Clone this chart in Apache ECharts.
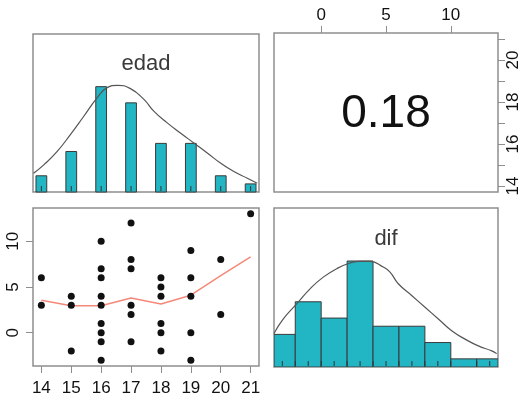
<!DOCTYPE html>
<html>
<head>
<meta charset="utf-8">
<script src="https://cdn.jsdelivr.net/npm/echarts@6/dist/echarts.min.js"></script>
<style>
  html, body { margin: 0; padding: 0; background: #fff; }
  #chart { width: 526px; height: 401px; }
</style>
</head>
<body>
<div id="chart"></div>
<script>
// edad histogram (counts per age)
const edadAges = [14, 15, 16, 17, 18, 19, 20, 21];
const edadCounts = [2, 5, 13, 11, 6, 6, 2, 1];
// edad density curve (count units)
const edadDensX = [13.74, 14.08, 14.53, 14.97, 15.42, 15.87, 16.2, 16.54, 16.98, 17.43, 17.76, 18.21, 18.65, 19.1, 19.55, 19.99, 20.44, 20.89, 21.22];
const edadDensY = [2.32, 3.35, 5.01, 7.08, 9.35, 11.64, 12.88, 13.17, 12.76, 11.43, 9.98, 8.53, 7.29, 6.05, 4.81, 3.57, 2.52, 1.70, 1.08];

// dif histogram (bins of width 2)
const difBreaks = [-4, -2, 0, 2, 4, 6, 8, 10, 12, 14];
const difCounts = [4, 8, 6, 13, 5, 5, 3, 1, 1];
const difDensX = [-3.64, -2.92, -1.89, -0.86, 0.16, 1.2, 2.22, 2.99, 3.77, 4.79, 5.31, 5.95, 6.98, 8.01, 9.04, 10.07, 11.1, 12.12, 13.16, 13.54];
const difDensY = [4.11, 5.89, 7.74, 9.59, 11.02, 12.06, 12.75, 12.96, 12.96, 12.26, 11.64, 10.21, 8.77, 7.32, 5.89, 4.44, 3.42, 2.59, 1.98, 1.64];
const difRug = [-3, -2, -1, 0, 1, 2, 3, 4, 5, 6, 7, 8, 9, 10, 12, 13];

// scatter edad vs dif
const scatterAge = [14, 14, 15, 15, 15, 16, 16, 16, 16, 16, 16, 16, 16, 16, 17, 17, 17, 17, 17, 17, 18, 18, 18, 18, 18, 18, 19, 19, 19, 19, 19, 20, 20, 21];
const scatterDif = [6, 3, 4, 3, -2, 10, 7, 6, 4, 3, 1, 0, -1, -3, 12, 8, 7, 3, 2, -1, 6, 5, 4, 1, 0, -2, 9, 6, 4, 0, -3, 8, 2, 13];
// lowess fit
const loessX = [14, 15, 16, 17, 18, 19, 20, 21];
const loessY = [3.55, 2.95, 2.95, 3.8, 3.15, 4.1, 6.25, 8.3];

// axis ticks / labels
const ageTicks = [14, 15, 16, 17, 18, 19, 20, 21];
const ageLabelsRight = [14, 16, 18, 20];
const difTicks = [0, 5, 10];
const corrLabel = '0.18';

const AGE_MIN = 13.72, AGE_MAX = 21.28;
const DIF_MIN = -3.64, DIF_MAX = 13.64;
const HIST_MAX = 19.5;
const EDAD_BAR_HALF = 0.18;

const FONT = '"Liberation Sans", Arial, sans-serif';
const BORDER = '#8e8e8e';
const BAR = '#22b5c4';

const chart = echarts.init(document.getElementById('chart'));

const gridBase = { show: true, borderColor: BORDER, borderWidth: 1.5, backgroundColor: '#fff' };

const hiddenAxis = (gridIndex, min, max) => ({
  type: 'value', gridIndex, min, max, show: false, splitLine: { show: false }
});

const tickStyle = { show: true, length: 7, inside: false, lineStyle: { color: BORDER, width: 1 } };
const labelStyle = { color: '#111', fontSize: 17, fontFamily: FONT };
const noLine = { show: false, onZero: false };

const rugSeries = (xAxisIndex, yAxisIndex, values) => ({
  type: 'custom',
  xAxisIndex, yAxisIndex,
  data: values.map(v => [v]),
  z: 5,
  renderItem: (params, api) => {
    const p = api.coord([api.value(0), 0]);
    return {
      type: 'line',
      shape: { x1: p[0], y1: p[1] - 1, x2: p[0], y2: p[1] - 6 },
      style: { stroke: '#333', lineWidth: 1 }
    };
  }
});

const option = {
  animation: false,
  backgroundColor: '#fff',
  grid: [
    Object.assign({ left: 33, top: 34, width: 226, height: 158 }, gridBase),
    Object.assign({ left: 274, top: 33, width: 224, height: 159 }, gridBase),
    Object.assign({ left: 33, top: 208, width: 226, height: 158 }, gridBase),
    Object.assign({ left: 274, top: 208, width: 224, height: 159 }, gridBase)
  ],
  xAxis: [
    hiddenAxis(0, AGE_MIN, AGE_MAX),
    {
      type: 'value', gridIndex: 1, min: DIF_MIN, max: DIF_MAX, position: 'top',
      axisLine: noLine, splitLine: { show: false },
      axisTick: Object.assign({ customValues: difTicks }, tickStyle),
      axisLabel: Object.assign({ customValues: difTicks, margin: 9 }, labelStyle)
    },
    {
      type: 'value', gridIndex: 2, min: AGE_MIN, max: AGE_MAX, position: 'bottom',
      axisLine: noLine, splitLine: { show: false },
      axisTick: Object.assign({ customValues: ageTicks }, tickStyle),
      axisLabel: Object.assign({ customValues: ageTicks, margin: 14 }, labelStyle)
    },
    hiddenAxis(3, DIF_MIN, DIF_MAX)
  ],
  yAxis: [
    hiddenAxis(0, 0, HIST_MAX),
    {
      type: 'value', gridIndex: 1, min: AGE_MIN, max: AGE_MAX, position: 'right',
      axisLine: noLine, splitLine: { show: false },
      axisTick: Object.assign({ customValues: ageTicks }, tickStyle),
      axisLabel: Object.assign({ customValues: ageLabelsRight, rotate: 90, margin: 7 }, labelStyle)
    },
    {
      type: 'value', gridIndex: 2, min: DIF_MIN, max: DIF_MAX, position: 'left',
      axisLine: noLine, splitLine: { show: false },
      axisTick: Object.assign({ customValues: difTicks }, tickStyle),
      axisLabel: Object.assign({ customValues: difTicks, rotate: 90, margin: 11 }, labelStyle)
    },
    hiddenAxis(3, 0, HIST_MAX)
  ],
  series: [
    // edad histogram
    {
      type: 'custom',
      xAxisIndex: 0, yAxisIndex: 0,
      data: edadAges.map((a, i) => [a, edadCounts[i]]),
      z: 3,
      renderItem: (params, api) => {
        const x = api.value(0), c = api.value(1);
        const p0 = api.coord([x - EDAD_BAR_HALF, c]);
        const p1 = api.coord([x + EDAD_BAR_HALF, 0]);
        return {
          type: 'rect',
          shape: { x: p0[0], y: p0[1], width: p1[0] - p0[0], height: p1[1] - p0[1] },
          style: { fill: BAR, stroke: '#3a3a3a', lineWidth: 1 }
        };
      }
    },
    rugSeries(0, 0, edadAges),
    {
      type: 'line',
      xAxisIndex: 0, yAxisIndex: 0,
      data: edadDensX.map((x, i) => [x, edadDensY[i]]),
      smooth: true, showSymbol: false, z: 4,
      lineStyle: { color: '#555', width: 1.2 }
    },
    // scatter
    {
      type: 'scatter',
      xAxisIndex: 2, yAxisIndex: 2,
      data: scatterAge.map((a, i) => [a, scatterDif[i]]),
      symbolSize: 7, z: 4,
      itemStyle: { color: '#111', opacity: 1 }
    },
    {
      type: 'line',
      xAxisIndex: 2, yAxisIndex: 2,
      data: loessX.map((x, i) => [x, loessY[i]]),
      showSymbol: false, z: 3,
      lineStyle: { color: '#f4897a', width: 1.5 }
    },
    // dif histogram
    {
      type: 'custom',
      xAxisIndex: 3, yAxisIndex: 3,
      data: difCounts.map((c, i) => [difBreaks[i], difBreaks[i + 1], c]),
      clip: true, z: 3,
      renderItem: (params, api) => {
        const lo = Math.max(api.value(0), DIF_MIN);
        const hi = Math.min(api.value(1), DIF_MAX);
        const p0 = api.coord([lo, api.value(2)]);
        const p1 = api.coord([hi, 0]);
        return {
          type: 'rect',
          shape: { x: p0[0], y: p0[1], width: p1[0] - p0[0], height: p1[1] - p0[1] },
          style: { fill: BAR, stroke: '#3a3a3a', lineWidth: 1 }
        };
      }
    },
    rugSeries(3, 3, difRug),
    {
      type: 'line',
      xAxisIndex: 3, yAxisIndex: 3,
      data: difDensX.map((x, i) => [x, difDensY[i]]),
      smooth: true, showSymbol: false, z: 4,
      lineStyle: { color: '#555', width: 1.2 }
    }
  ],
  graphic: [
    {
      type: 'text', x: 146, y: 64, z: 10,
      style: { text: 'edad', fill: '#3a3a3a', font: '22px ' + FONT, textAlign: 'center', textVerticalAlign: 'middle' }
    },
    {
      type: 'text', x: 386, y: 114, z: 10,
      style: { text: corrLabel, fill: '#111', font: '46px ' + FONT, textAlign: 'center', textVerticalAlign: 'middle' }
    },
    {
      type: 'text', x: 386, y: 239, z: 10,
      style: { text: 'dif', fill: '#3a3a3a', font: '22px ' + FONT, textAlign: 'center', textVerticalAlign: 'middle' }
    }
  ]
};

chart.setOption(option);
</script>
</body>
</html>
